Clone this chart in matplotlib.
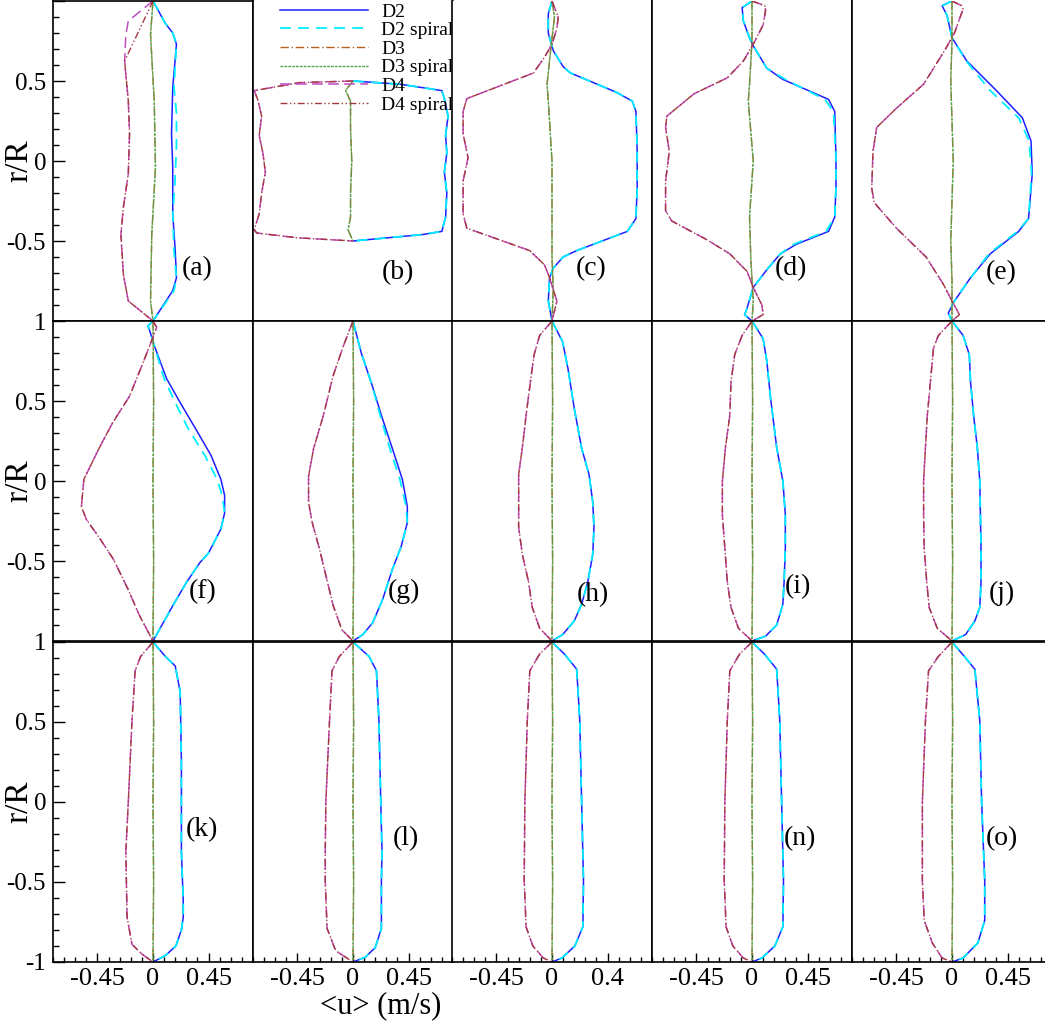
import matplotlib.pyplot as plt
from matplotlib.ticker import FixedLocator, MultipleLocator

plt.rcParams['font.family'] = ['Liberation Serif', 'DejaVu Serif']

# ---- mean axial velocity profiles <u> vs r/R, one block per panel ----
# (a)
a_d2_r = [1.0, 0.86, 0.80, 0.73, 0.46, 0.17, -0.04, -0.33, -0.56, -0.73, -0.81, -1.0]
a_d2_u = [0.0, 0.10, 0.16, 0.19, 0.16, 0.15, 0.16, 0.16, 0.18, 0.19, 0.16, 0.0]
a_d2s_r = [1.0, 0.86, 0.80, 0.73, 0.46, 0.30, 0.10, -0.10, -0.33, -0.56, -0.73, -0.81, -1.0]
a_d2s_u = [0.0, 0.10, 0.16, 0.19, 0.17, 0.19, 0.19, 0.18, 0.16, 0.17, 0.19, 0.17, 0.0]
a_d3_r = [1.0, 0.79, 0.375, -0.04, -0.46, -0.875, -1.0]
a_d3_u = [0.0, -0.02, 0.01, 0.02, -0.01, -0.02, 0.0]
a_d4_r = [1.0, 0.875, 0.79, 0.625, 0.375, 0.17, -0.08, -0.29, -0.46, -0.71, -0.875, -1.0]
a_d4_u = [0.0, -0.20, -0.22, -0.23, -0.20, -0.19, -0.20, -0.24, -0.26, -0.24, -0.20, 0.0]
a_d4s_r = [1.0, 0.625, 0.375, 0.17, -0.08, -0.29, -0.46, -0.71, -0.875, -1.0]
a_d4s_u = [0.0, -0.23, -0.20, -0.19, -0.20, -0.24, -0.26, -0.24, -0.20, 0.0]

# (b)
b_d2_r = [0.50, 0.48, 0.44, 0.39, 0.28, 0.16, 0.05, -0.07, -0.20, -0.35, -0.44, -0.46, -0.50]
b_d2_u = [0.0, 0.38, 0.72, 0.74, 0.77, 0.75, 0.76, 0.74, 0.76, 0.75, 0.72, 0.56, 0.0]
b_d3_r = [0.50, 0.44, 0.375, 0.20, 0.0, -0.20, -0.35, -0.43, -0.50]
b_d3_u = [0.0, -0.06, -0.02, -0.02, -0.01, -0.02, -0.02, -0.04, 0.0]
b_d4_r = [0.50, 0.49, 0.44, 0.38, 0.28, 0.16, 0.05, -0.07, -0.20, -0.33, -0.43, -0.45, -0.48, -0.50]
b_d4_u = [0.0, -0.43, -0.80, -0.77, -0.74, -0.76, -0.73, -0.71, -0.74, -0.76, -0.80, -0.78, -0.45, 0.0]

# (c)
c_d2_r = [1.0, 0.92, 0.80, 0.69, 0.59, 0.55, 0.43, 0.375, 0.31, 0.06, -0.17, -0.36, -0.44,
          -0.56, -0.60, -0.67, -0.73, -0.875, -1.0]
c_d2_u = [0.0, -0.03, -0.03, 0.01, 0.09, 0.15, 0.52, 0.65, 0.68, 0.69, 0.69, 0.68, 0.61,
          0.20, 0.09, 0.01, -0.02, -0.03, 0.0]
c_d3_r = [1.0, 0.9, 0.7, 0.48, 0.375, 0.0, -0.3, -0.6, -0.8, -1.0]
c_d3_u = [0.0, 0.02, -0.01, -0.04, -0.03, 0.0, 0.0, 0.0, 0.01, 0.0]
c_d4_r = [1.0, 0.9, 0.83, 0.73, 0.65, 0.55, 0.39, 0.31, 0.17, 0.02, -0.125, -0.33, -0.42,
          -0.56, -0.65, -0.73, -0.875, -1.0]
c_d4_u = [0.0, 0.05, 0.04, 0.0, -0.06, -0.15, -0.69, -0.72, -0.72, -0.68, -0.72, -0.72, -0.69,
          -0.18, -0.06, -0.02, 0.04, 0.0]

# (d)
d_d2_r = [1.0, 0.958, 0.875, 0.77, 0.72, 0.58, 0.51, 0.385, 0.31, 0.02, -0.17, -0.35, -0.44,
          -0.52, -0.58, -0.67, -0.75, -0.79, -0.92, -0.96, -1.0]
d_d2_u = [0.0, -0.08, -0.07, -0.02, 0.01, 0.12, 0.25, 0.62, 0.67, 0.68, 0.68, 0.67, 0.62,
          0.36, 0.23, 0.13, 0.05, 0.01, -0.04, -0.06, 0.0]
d_d2s_u = [0.0, -0.08, -0.07, -0.02, 0.01, 0.12, 0.27, 0.59, 0.66, 0.68, 0.68, 0.67, 0.60,
           0.34, 0.23, 0.13, 0.05, 0.01, -0.04, -0.06, 0.0]
d_d3_r = [1.0, 0.75, 0.48, 0.375, 0.0, -0.35, -0.6, -0.875, -1.0]
d_d3_u = [0.0, 0.0, -0.02, -0.03, 0.01, -0.02, -0.01, 0.01, 0.0]
d_d4_r = [1.0, 0.97, 0.94, 0.85, 0.73, 0.625, 0.52, 0.42, 0.28, 0.21, 0.06, -0.125, -0.31,
          -0.375, -0.49, -0.58, -0.69, -0.79, -0.90, -0.96, -1.0]
d_d4_u = [0.0, 0.105, 0.11, 0.09, 0.01, -0.07, -0.20, -0.47, -0.69, -0.70, -0.67, -0.70, -0.70,
          -0.65, -0.37, -0.18, -0.04, 0.01, 0.08, 0.09, 0.0]

# (e)
e_d2_r = [1.0, 0.97, 0.91, 0.77, 0.625, 0.44, 0.27, 0.125, -0.08, -0.36, -0.44, -0.58, -0.73,
          -0.875, -0.95, -1.0]
e_d2_u = [0.0, -0.08, -0.04, 0.0, 0.12, 0.36, 0.57, 0.64, 0.65, 0.62, 0.54, 0.31, 0.15,
          0.02, -0.03, 0.0]
e_d2s_u = [0.0, -0.08, -0.04, 0.0, 0.115, 0.31, 0.54, 0.625, 0.645, 0.62, 0.53, 0.30, 0.15,
           0.02, -0.03, 0.0]
e_d3_r = [1.0, 0.75, 0.5, 0.25, 0.0, -0.25, -0.5, -0.75, -1.0]
e_d3_u = [0.0, 0.0, -0.01, 0.0, 0.01, 0.0, -0.01, 0.0, 0.0]
e_d4_r = [1.0, 0.97, 0.95, 0.80, 0.69, 0.48, 0.33, 0.21, 0.06, -0.17, -0.26, -0.42, -0.60,
          -0.77, -0.875, -0.96, -1.0]
e_d4_u = [0.0, 0.08, 0.09, 0.02, -0.06, -0.23, -0.45, -0.61, -0.64, -0.65, -0.63, -0.45, -0.21,
          -0.07, 0.0, 0.06, 0.0]

# (f)
f_d2_r = [1.0, 0.97, 0.94, 0.84, 0.64, 0.49, 0.32, 0.16, 0.01, -0.09, -0.20, -0.30, -0.45,
          -0.51, -0.635, -0.78, -1.0]
f_d2_u = [0.0, -0.04, -0.027, 0.013, 0.11, 0.22, 0.35, 0.47, 0.55, 0.58, 0.58, 0.55, 0.45,
          0.38, 0.27, 0.16, 0.0]
f_d2s_u = [0.0, -0.04, -0.027, 0.013, 0.09, 0.18, 0.29, 0.42, 0.52, 0.56, 0.58, 0.55, 0.45,
           0.38, 0.27, 0.16, 0.0]
f_d4_r = [1.0, 0.96, 0.90, 0.74, 0.53, 0.36, 0.20, 0.01, -0.16, -0.24, -0.36, -0.49, -0.68,
          -0.84, -1.0]
f_d4_u = [0.0, 0.03, 0.0, -0.08, -0.19, -0.33, -0.44, -0.56, -0.58, -0.54, -0.43, -0.32, -0.20,
          -0.11, 0.0]

# (g)
g_d2_r = [1.0, 0.80, 0.61, 0.41, 0.20, 0.01, -0.16, -0.26, -0.41, -0.55, -0.74, -0.885, -0.96, -1.0]
g_d2_u = [0.0, 0.067, 0.15, 0.23, 0.32, 0.40, 0.44, 0.44, 0.39, 0.32, 0.24, 0.16, 0.08, 0.0]
g_d2s_u = [0.0, 0.067, 0.15, 0.22, 0.30, 0.38, 0.43, 0.44, 0.39, 0.32, 0.24, 0.16, 0.08, 0.0]
g_d4_r = [1.0, 0.84, 0.66, 0.41, 0.20, 0.03, -0.135, -0.26, -0.43, -0.59, -0.78, -0.93, -1.0]
g_d4_u = [0.0, -0.08, -0.16, -0.24, -0.32, -0.36, -0.36, -0.33, -0.27, -0.22, -0.16, -0.09, 0.0]

# (h)
h_d2_r = [1.0, 0.87, 0.70, 0.455, 0.205, 0.04, -0.13, -0.29, -0.46, -0.63, -0.77, -0.875, -0.96, -1.0]
h_d2_u = [0.0, 0.086, 0.13, 0.18, 0.24, 0.30, 0.33, 0.34, 0.33, 0.29, 0.24, 0.18, 0.086, 0.0]
h_d4_r = [1.0, 0.91, 0.79, 0.62, 0.41, 0.21, 0.04, -0.13, -0.29, -0.46, -0.63, -0.79, -0.92, -1.0]
h_d4_u = [0.0, -0.10, -0.145, -0.175, -0.21, -0.24, -0.27, -0.27, -0.27, -0.24, -0.19, -0.16, -0.10, 0.0]

# (i)
i_d2_r = [1.0, 0.89, 0.75, 0.52, 0.21, 0.0, -0.21, -0.42, -0.63, -0.77, -0.90, -0.97, -1.0]
i_d2_u = [0.0, 0.09, 0.12, 0.15, 0.20, 0.25, 0.27, 0.27, 0.26, 0.25, 0.20, 0.11, 0.0]
i_d4_r = [1.0, 0.91, 0.79, 0.62, 0.41, 0.21, 0.0, -0.21, -0.42, -0.63, -0.79, -0.92, -1.0]
i_d4_u = [0.0, -0.08, -0.14, -0.17, -0.18, -0.215, -0.24, -0.24, -0.22, -0.20, -0.17, -0.11, 0.0]

# (j)
j_d2_r = [1.0, 0.91, 0.79, 0.62, 0.41, 0.21, 0.0, -0.21, -0.42, -0.63, -0.79, -0.875, -0.96, -1.0]
j_d2_u = [0.0, 0.09, 0.14, 0.15, 0.175, 0.205, 0.225, 0.23, 0.235, 0.235, 0.225, 0.185, 0.11, 0.0]
j_d4_r = [1.0, 0.91, 0.83, 0.62, 0.41, 0.21, 0.0, -0.21, -0.42, -0.63, -0.79, -0.92, -1.0]
j_d4_u = [0.0, -0.11, -0.15, -0.175, -0.20, -0.215, -0.23, -0.23, -0.225, -0.205, -0.185, -0.12, 0.0]

# (k)
k_d2_r = [1.0, 0.91, 0.85, 0.69, 0.26, -0.31, -0.62, -0.72, -0.80, -0.90, -0.96, -1.0]
k_d2_u = [0.0, 0.10, 0.18, 0.22, 0.23, 0.23, 0.245, 0.245, 0.23, 0.185, 0.10, 0.0]
k_d4_r = [1.0, 0.91, 0.82, 0.51, 0.0, -0.31, -0.72, -0.89, -0.95, -1.0]
k_d4_u = [0.0, -0.10, -0.145, -0.17, -0.20, -0.22, -0.21, -0.17, -0.09, 0.0]

# (l)
l_d2_r = [1.0, 0.91, 0.82, 0.51, 0.0, -0.31, -0.49, -0.79, -0.91, -0.97, -1.0]
l_d2_u = [0.0, 0.13, 0.19, 0.21, 0.225, 0.235, 0.23, 0.23, 0.18, 0.10, 0.0]
l_d4_r = [1.0, 0.91, 0.82, 0.51, 0.0, -0.31, -0.49, -0.79, -0.93, -1.0]
l_d4_u = [0.0, -0.11, -0.17, -0.19, -0.22, -0.225, -0.225, -0.21, -0.14, 0.0]

# (m) -- drawn without a tag
m_d2_r = [1.0, 0.925, 0.83, 0.51, 0.0, -0.49, -0.78, -0.90, -0.975, -1.0]
m_d2_u = [0.0, 0.10, 0.20, 0.225, 0.24, 0.255, 0.25, 0.185, 0.08, 0.0]
m_d4_r = [1.0, 0.925, 0.82, 0.51, 0.0, -0.49, -0.78, -0.90, -0.975, -1.0]
m_d4_u = [0.0, -0.10, -0.18, -0.20, -0.22, -0.225, -0.21, -0.155, -0.07, 0.0]

# (n)
n_d2_r = [1.0, 0.925, 0.83, 0.51, 0.0, -0.49, -0.78, -0.90, -0.975, -1.0]
n_d2_u = [0.0, 0.10, 0.20, 0.225, 0.24, 0.255, 0.25, 0.185, 0.08, 0.0]
n_d4_r = [1.0, 0.925, 0.82, 0.51, 0.0, -0.49, -0.78, -0.90, -0.975, -1.0]
n_d4_u = [0.0, -0.10, -0.18, -0.20, -0.22, -0.225, -0.21, -0.155, -0.07, 0.0]

# (o)
o_d2_r = [1.0, 0.91, 0.83, 0.51, 0.0, -0.49, -0.74, -0.88, -0.975, -1.0]
o_d2_u = [0.0, 0.10, 0.185, 0.225, 0.24, 0.265, 0.265, 0.21, 0.09, 0.0]
o_d4_r = [1.0, 0.91, 0.82, 0.51, 0.0, -0.49, -0.74, -0.88, -0.975, -1.0]
o_d4_u = [0.0, -0.11, -0.19, -0.215, -0.24, -0.24, -0.225, -0.16, -0.08, 0.0]

# D3 stays on the axis in the lower two rows
d3_axis_r = [1.0, 0.5, 0.0, -0.5, -1.0]
d3_axis_u = [0.0, 0.005, 0.0, 0.005, 0.0]

series_names = ['D2', 'D2 spiral', 'D3', 'D3 spiral', 'D4', 'D4 spiral']
panel_tags = ['(a)', '(b)', '(c)', '(d)', '(e)', '(f)', '(g)', '(h)', '(i)', '(j)',
              '(k)', '(l)', '', '(n)', '(o)']
ytick_vals = [-1.0, -0.5, 0.0, 0.5, 1.0]
ytick_text = [['', '-0.5', '0', '0.5', ''],
              ['', '-0.5', '0', '0.5', '1'],
              ['-1', '-0.5', '0', '0.5', '1']]
xtick_vals = [-0.45, 0.0, 0.45]
xtick_text = [['-0.45', '0', '0.45'], ['-0.45', '0', '0.45'], ['-0.45', '0', '0.4'],
              ['-0.45', '0', '0.45'], ['-0.45', '0', '0.45']]

# curves per panel in legend order: D2, D2 spiral, D3, D3 spiral, D4, D4 spiral
panel_curves = [
    [(a_d2_r, a_d2_u), (a_d2s_r, a_d2s_u), (a_d3_r, a_d3_u), (a_d3_r, a_d3_u), (a_d4_r, a_d4_u), (a_d4s_r, a_d4s_u)],
    [(b_d2_r, b_d2_u), (b_d2_r, b_d2_u), (b_d3_r, b_d3_u), (b_d3_r, b_d3_u), (b_d4_r, b_d4_u), (b_d4_r, b_d4_u)],
    [(c_d2_r, c_d2_u), (c_d2_r, c_d2_u), (c_d3_r, c_d3_u), (c_d3_r, c_d3_u), (c_d4_r, c_d4_u), (c_d4_r, c_d4_u)],
    [(d_d2_r, d_d2_u), (d_d2_r, d_d2s_u), (d_d3_r, d_d3_u), (d_d3_r, d_d3_u), (d_d4_r, d_d4_u), (d_d4_r, d_d4_u)],
    [(e_d2_r, e_d2_u), (e_d2_r, e_d2s_u), (e_d3_r, e_d3_u), (e_d3_r, e_d3_u), (e_d4_r, e_d4_u), (e_d4_r, e_d4_u)],
    [(f_d2_r, f_d2_u), (f_d2_r, f_d2s_u), (d3_axis_r, d3_axis_u), (d3_axis_r, d3_axis_u), (f_d4_r, f_d4_u), (f_d4_r, f_d4_u)],
    [(g_d2_r, g_d2_u), (g_d2_r, g_d2s_u), (d3_axis_r, d3_axis_u), (d3_axis_r, d3_axis_u), (g_d4_r, g_d4_u), (g_d4_r, g_d4_u)],
    [(h_d2_r, h_d2_u), (h_d2_r, h_d2_u), (d3_axis_r, d3_axis_u), (d3_axis_r, d3_axis_u), (h_d4_r, h_d4_u), (h_d4_r, h_d4_u)],
    [(i_d2_r, i_d2_u), (i_d2_r, i_d2_u), (d3_axis_r, d3_axis_u), (d3_axis_r, d3_axis_u), (i_d4_r, i_d4_u), (i_d4_r, i_d4_u)],
    [(j_d2_r, j_d2_u), (j_d2_r, j_d2_u), (d3_axis_r, d3_axis_u), (d3_axis_r, d3_axis_u), (j_d4_r, j_d4_u), (j_d4_r, j_d4_u)],
    [(k_d2_r, k_d2_u), (k_d2_r, k_d2_u), (d3_axis_r, d3_axis_u), (d3_axis_r, d3_axis_u), (k_d4_r, k_d4_u), (k_d4_r, k_d4_u)],
    [(l_d2_r, l_d2_u), (l_d2_r, l_d2_u), (d3_axis_r, d3_axis_u), (d3_axis_r, d3_axis_u), (l_d4_r, l_d4_u), (l_d4_r, l_d4_u)],
    [(m_d2_r, m_d2_u), (m_d2_r, m_d2_u), (d3_axis_r, d3_axis_u), (d3_axis_r, d3_axis_u), (m_d4_r, m_d4_u), (m_d4_r, m_d4_u)],
    [(n_d2_r, n_d2_u), (n_d2_r, n_d2_u), (d3_axis_r, d3_axis_u), (d3_axis_r, d3_axis_u), (n_d4_r, n_d4_u), (n_d4_r, n_d4_u)],
    [(o_d2_r, o_d2_u), (o_d2_r, o_d2_u), (d3_axis_r, d3_axis_u), (d3_axis_r, d3_axis_u), (o_d4_r, o_d4_u), (o_d4_r, o_d4_u)],
]

styles = [
    dict(color='#1f1fff', lw=1.1, ls='-'),
    dict(color='#00f0ff', lw=1.3, ls=(0, (6, 4))),
    dict(color='#b5601e', lw=1.0, ls=(0, (6, 2, 1, 2))),
    dict(color='#4fa84f', lw=1.0, ls=(0, (2, 0.8))),
    dict(color='#c04cc0', lw=1.1, ls=(0, (7, 3.5))),
    dict(color='#a3383f', lw=1.0, ls=(0, (5, 1.8, 1, 1.8, 1, 1.8))),
]

# where the panel tag sits, in data units (u, r/R)
tag_pos = [(0.355, -0.675), (0.36, -0.70), (0.315, -0.675), (0.315, -0.675), (0.40, -0.70),
           (0.40, -0.69), (0.41, -0.69), (0.335, -0.71), (0.37, -0.66), (0.40, -0.70),
           (0.40, -0.17), (0.43, -0.23), (0.0, 0.0), (0.39, -0.23), (0.40, -0.23)]

W, H = 1045.0, 1028.0
col_left = [53, 253, 452, 652, 852]
row_top = [1, 321, 642]
pw, ph = 200, 320

fig = plt.figure(figsize=(W / 100, H / 100), dpi=100)

for idx, curves in enumerate(panel_curves):
    row, col = divmod(idx, 5)
    ax = fig.add_axes([col_left[col] / W, 1 - (row_top[row] + ph) / H, pw / W, ph / H])
    lines = []
    for (rr, uu), st, name in zip(curves, styles, series_names):
        ln, = ax.plot(uu, rr, label=name, **st)
        lines.append(ln)

    ax.set_xlim(-0.81, 0.81)
    ax.set_ylim(-1, 1)
    for sp in ax.spines.values():
        sp.set_linewidth(1.2)
    if row == 0 and col > 0:
        ax.spines['top'].set_visible(False)

    if col == 0:
        ax.yaxis.set_major_locator(FixedLocator(ytick_vals))
        ax.set_yticklabels(ytick_text[row])
        ax.yaxis.set_minor_locator(MultipleLocator(0.1))
        ax.tick_params(axis='y', which='both', direction='in', left=True, right=False,
                       labelsize=18, pad=5, width=1.0)
        ax.tick_params(axis='y', which='major', length=8.5)
        ax.tick_params(axis='y', which='minor', length=4)
    else:
        ax.tick_params(axis='y', which='both', left=False, right=False, labelleft=False)

    if row == 2:
        ax.xaxis.set_major_locator(FixedLocator(xtick_vals))
        ax.set_xticklabels(xtick_text[col])
        ax.xaxis.set_minor_locator(MultipleLocator(0.09))
        ax.tick_params(axis='x', which='both', direction='in', bottom=True, top=False,
                       labelsize=19, pad=4, width=1.0)
        ax.tick_params(axis='x', which='major', length=6.5)
        ax.tick_params(axis='x', which='minor', length=3.5)
    else:
        ax.tick_params(axis='x', which='both', bottom=False, top=False, labelbottom=False)

    if panel_tags[idx]:
        tx, ty = tag_pos[idx]
        ax.text(tx, ty, panel_tags[idx], fontsize=20, ha='center', va='center')

    if idx == 1:
        ax.legend(lines, series_names, loc='upper left', frameon=False, fontsize=14,
                  handlelength=4.5, handletextpad=0.7, labelspacing=0.05,
                  borderpad=0, borderaxespad=0,
                  bbox_to_anchor=(280 / W, 1 - 3 / H), bbox_transform=fig.transFigure)

for yc in [161, 481, 802]:
    fig.text(19 / W, 1 - yc / H, 'r/R', rotation=90, ha='center', va='center', fontsize=24)
fig.text(381 / W, 1 - 1006 / H, '<u> (m/s)', ha='center', va='center', fontsize=22)

fig.savefig('out.png', dpi=100)
